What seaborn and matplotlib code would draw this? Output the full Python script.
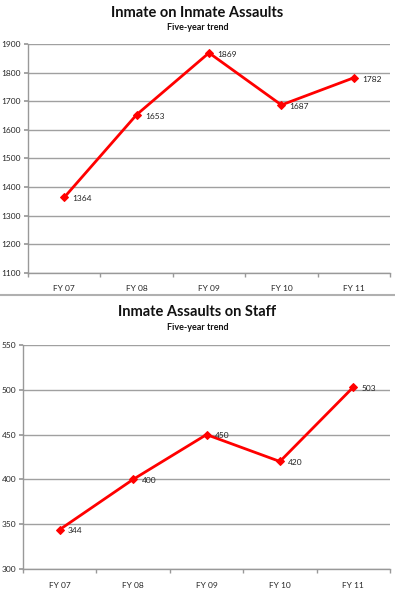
import matplotlib
matplotlib.use("Agg")
import matplotlib.pyplot as plt
import seaborn as sns
import pandas as pd
from matplotlib.lines import Line2D

years = ["FY 07", "FY 08", "FY 09", "FY 10", "FY 11"]
inmate_on_inmate = [1364, 1653, 1869, 1687, 1782]
inmate_on_staff = [344, 400, 450, 420, 503]
top_ticks = [1100, 1200, 1300, 1400, 1500, 1600, 1700, 1800, 1900]
bottom_ticks = [300, 350, 400, 450, 500, 550]

sns.set_theme(style="white")
plt.rcParams['font.family'] = ['Lato', 'DejaVu Sans']

W, H = 395, 590
fig = plt.figure(figsize=(W / 100, H / 100), dpi=100)

def px_axes(l, t, r, b):
    return fig.add_axes([l / W, 1 - b / H, (r - l) / W, (b - t) / H])

def draw(ax, values, ticks, title, ttop):
    df = pd.DataFrame({"year": years, "value": values})
    df["pos"] = range(len(years))
    sns.lineplot(data=df, x="pos", y="value", ax=ax, color="#ff0000",
                 linewidth=2, marker="D", markersize=4.5,
                 markeredgecolor="#ff0000")
    for x, v in zip(df["pos"], values):
        ax.annotate(str(v), (x, v), xytext=(6, -1), textcoords="offset points",
                    fontsize=6, va="center", ha="left", color="#222222")
    ax.set_xlim(-0.5, len(years) - 0.5)
    ax.set_ylim(ticks[0], ticks[-1])
    ax.set_yticks(ticks)
    ax.set_yticklabels([str(t) for t in ticks], fontsize=6)
    ax.set_xticks(range(len(years)))
    ax.set_xticklabels(years, fontsize=6)
    ax.set_xticks([i + 0.5 for i in range(-1, len(years))], minor=True)
    ax.tick_params(axis="x", which="major", length=0, pad=9)
    ax.tick_params(axis="x", which="minor", length=3, color="#999999", bottom=True)
    ax.tick_params(axis="y", length=3, color="#999999", left=True, pad=2)
    ax.set_xlabel("")
    ax.set_ylabel("")
    ax.yaxis.grid(True, color="#a0a0a0", linewidth=1)
    ax.xaxis.grid(False)
    ax.set_axisbelow(True)
    for s in ["top", "right"]:
        ax.spines[s].set_visible(False)
    for s in ["left", "bottom"]:
        ax.spines[s].set_color("#999999")
        ax.spines[s].set_linewidth(1)
    fig.text(0.5, 1 - ttop / H, title, ha="center", va="center",
             fontsize=10.5, fontweight="bold", color="#111111")
    fig.text(0.5, 1 - (ttop + 15) / H, "Five-year trend", ha="center",
             va="center", fontsize=6.5, fontweight="bold", color="#111111")

ax1 = px_axes(28, 44, 390, 273)
draw(ax1, inmate_on_inmate, top_ticks, "Inmate on Inmate Assaults", 13)

ax2 = px_axes(23, 345, 390, 569)
draw(ax2, inmate_on_staff, bottom_ticks, "Inmate Assaults on Staff", 312)

fig.add_artist(Line2D([0, 1], [1 - 295 / H, 1 - 295 / H], transform=fig.transFigure,
                      color="#b0b0b0", linewidth=1.5))

fig.savefig("out.png", dpi=100)
